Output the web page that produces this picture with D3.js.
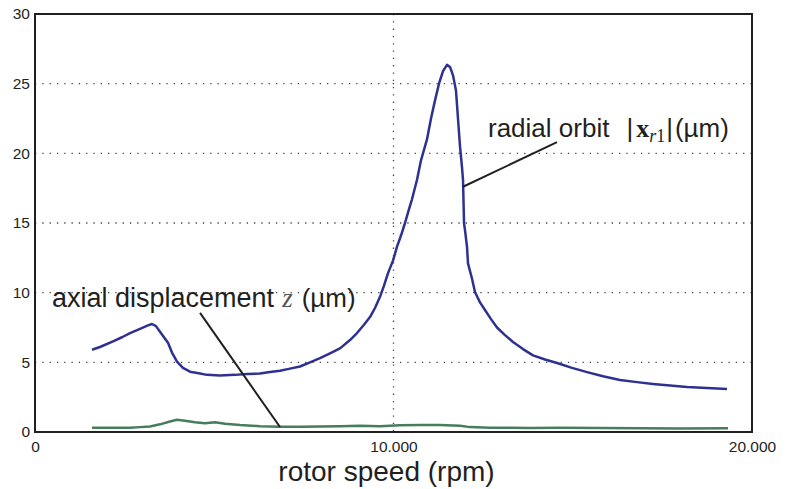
<!DOCTYPE html>
<html>
    <head>
        <title>Rotor run-up</title>
        <script src="https://d3js.org/d3.v7.min.js"></script>
    </head>

    <body>
        <div id="root"></div>
    </body>

    <style>
body {
    margin: 0;
    background: #fff;
}
svg {
    display: block;
    font-family: "Liberation Sans", Arial, sans-serif;
}
    </style>

    <script>
        // rotor speed in rpm, amplitude in µm
        let radial_speed = [1590, 1813, 2176, 2427, 2650, 2929, 3152, 3264, 3375, 3487, 3598, 3710, 3821, 3961,
            4128, 4324, 4603, 4798, 5160, 5579, 5914, 6276, 6555, 6834, 7113, 7392, 7671, 7950, 8229, 8508,
            8787, 8982, 9177, 9344, 9484, 9623, 9735, 9847, 9986, 10098, 10209, 10321, 10432, 10516, 10656,
            10767, 10934, 11046, 11158, 11269, 11381, 11492, 11576, 11660, 11743, 11799, 11855, 11911, 11939,
            11967, 11994, 12050, 12078, 12190, 12273, 12413, 12552, 12720, 12887, 13110, 13333, 13612, 13891,
            14226, 14561, 14979, 15398, 15844, 16318, 16792, 17238, 17713, 18187, 18745, 19303];
        let radial_orbit = [5.9, 6.1, 6.5, 6.8, 7.1, 7.4, 7.65, 7.75, 7.6, 7.2, 6.8, 6.4, 5.7, 5.05,
            4.6, 4.33, 4.2, 4.1, 4.05, 4.1, 4.16, 4.2, 4.3, 4.4, 4.55, 4.7, 5.0, 5.3, 5.65, 6.0,
            6.6, 7.1, 7.7, 8.25, 8.9, 9.7, 10.5, 11.4, 12.3, 13.3, 14.1, 15.0, 16.0, 16.7, 18.1,
            19.5, 21.0, 22.5, 23.8, 25.0, 25.9, 26.35, 26.2, 25.6, 24.5, 22.5, 20.5, 19.0, 18.1,
            15.0, 14.5, 13.3, 12.1, 11.0, 10.05, 9.3, 8.76, 8.1, 7.5, 6.95, 6.46, 5.95, 5.5,
            5.2, 4.95, 4.6, 4.3, 4.0, 3.73, 3.58, 3.45, 3.33, 3.23, 3.15, 3.08];

        let axial_speed = [1590, 2092, 2650, 2929, 3208, 3487, 3766, 3961, 4184, 4463, 4742, 5021, 5300,
            5718, 6276, 6834, 7392, 7950, 8508, 9066, 9623, 10181, 10739, 11297, 11855, 12134, 12692,
            13250, 13807, 14644, 15760, 16876, 17992, 19331];
        let axial_disp = [0.3, 0.3, 0.3, 0.35, 0.4, 0.55, 0.75, 0.88, 0.8, 0.7, 0.62, 0.7, 0.6,
            0.5, 0.42, 0.38, 0.38, 0.4, 0.42, 0.45, 0.42, 0.48, 0.5, 0.5, 0.45, 0.35, 0.3,
            0.3, 0.28, 0.3, 0.28, 0.27, 0.26, 0.27];

        let x_ticks = [0, 10000, 20000];
        let y_ticks = [0, 5, 10, 15, 20, 25, 30];
        let x_grid = [10000];
        let y_grid = [5, 10, 15, 20, 25];

        // leader lines for the two labels, [rpm, µm]
        let radial_leader = [[11939, 17.6], [14561, 20.8]];
        let axial_leader = [[4603, 8.55], [6834, 0.36]];

        let width = 794;
        let height = 489;
        let plot_left = 35, plot_right = 752, plot_top = 14, plot_bottom = 432;

        let ink = '#231f20';
        let blue = '#2e3192';
        let green = '#467e5c';
        let serif = '"Liberation Serif", "Times New Roman", serif';

        let scale_x = d3.scaleLinear().domain([0, 20000]).range([plot_left, plot_right]);
        let scale_y = d3.scaleLinear().domain([0, 30]).range([plot_bottom, plot_top]);

        let fmt = d3.formatLocale({ decimal: ',', thousands: '.', grouping: [3], currency: ['', ''] }).format(',');

        let svg = d3.select('#root')
            .append('svg')
            .attr('width', width)
            .attr('height', height);

        // dotted grid
        svg.append('g')
            .selectAll('line')
            .data(y_grid)
            .join('line')
            .attr('x1', plot_left)
            .attr('x2', plot_right)
            .attr('y1', d => scale_y(d))
            .attr('y2', d => scale_y(d))
            .attr('stroke', '#444')
            .attr('stroke-width', 1.3)
            .attr('stroke-dasharray', '1.3,6');
        svg.append('g')
            .selectAll('line')
            .data(x_grid)
            .join('line')
            .attr('x1', d => scale_x(d))
            .attr('x2', d => scale_x(d))
            .attr('y1', plot_top)
            .attr('y2', plot_bottom)
            .attr('stroke', '#444')
            .attr('stroke-width', 1.3)
            .attr('stroke-dasharray', '1.3,6');

        // axes (labels only, frame drawn below)
        let axis_y = svg.append('g')
            .attr('transform', `translate(${plot_left}, 0)`)
            .call(d3.axisLeft(scale_y).tickValues(y_ticks).tickSize(0).tickPadding(5));
        let axis_x = svg.append('g')
            .attr('transform', `translate(0, ${plot_bottom})`)
            .call(d3.axisBottom(scale_x).tickValues(x_ticks).tickFormat(fmt).tickSize(0).tickPadding(9));
        [axis_y, axis_x].forEach(a => {
            a.select('.domain').remove();
            a.selectAll('text')
                .attr('font-family', '"Liberation Sans", Arial, sans-serif')
                .attr('font-size', 15.5)
                .attr('fill', ink);
        });

        let line = d3.line().x(d => scale_x(d[0])).y(d => scale_y(d[1]));

        svg.append('path')
            .datum(axial_speed.map((s, i) => [s, axial_disp[i]]))
            .attr('d', line)
            .attr('fill', 'none')
            .attr('stroke', green)
            .attr('stroke-width', 2.5)
            .attr('stroke-linejoin', 'round');

        svg.append('path')
            .datum(radial_speed.map((s, i) => [s, radial_orbit[i]]))
            .attr('d', line)
            .attr('fill', 'none')
            .attr('stroke', blue)
            .attr('stroke-width', 2.5)
            .attr('stroke-linejoin', 'round');

        // frame
        svg.append('rect')
            .attr('x', plot_left)
            .attr('y', plot_top)
            .attr('width', plot_right - plot_left)
            .attr('height', plot_bottom - plot_top)
            .attr('fill', 'none')
            .attr('stroke', ink)
            .attr('stroke-width', 2);

        // leader lines
        [radial_leader, axial_leader].forEach(l => {
            svg.append('path')
                .datum(l)
                .attr('d', line)
                .attr('stroke', ink)
                .attr('stroke-width', 2);
        });

        // labels
        let radial = svg.append('text')
            .attr('x', 488)
            .attr('y', 137)
            .attr('font-size', 26)
            .attr('fill', ink);
        radial.append('tspan').text('radial orbit');
        radial.append('tspan')
            .attr('dx', 17)
            .text('|');
        radial.append('tspan')
            .attr('font-family', serif)
            .attr('font-weight', 'bold')
            .attr('dx', 3)
            .text('x');
        radial.append('tspan')
            .attr('font-family', serif)
            .attr('font-style', 'italic')
            .attr('font-size', 18)
            .attr('dy', 5)
            .text('r');
        radial.append('tspan')
            .attr('font-family', serif)
            .attr('font-size', 18)
            .text('1');
        radial.append('tspan')
            .attr('dy', -5)
            .attr('dx', 1)
            .text('|');
        radial.append('tspan')
            .attr('dx', 2)
            .text('(µm)');

        let axial = svg.append('text')
            .attr('x', 52)
            .attr('y', 307)
            .attr('font-size', 27)
            .attr('fill', ink);
        axial.append('tspan').text('axial displacement');
        axial.append('tspan')
            .attr('font-family', serif)
            .attr('font-style', 'italic')
            .attr('fill', '#555')
            .attr('dx', 8)
            .text('z');
        axial.append('tspan')
            .attr('dx', 9)
            .attr('font-size', 26)
            .text('(µm)');

        svg.append('text')
            .attr('x', (scale_x(0) + scale_x(20000)) / 2 - 7)
            .attr('y', 481)
            .attr('text-anchor', 'middle')
            .attr('font-size', 28)
            .attr('fill', ink)
            .text('rotor speed (rpm)');
    </script>
</html>
